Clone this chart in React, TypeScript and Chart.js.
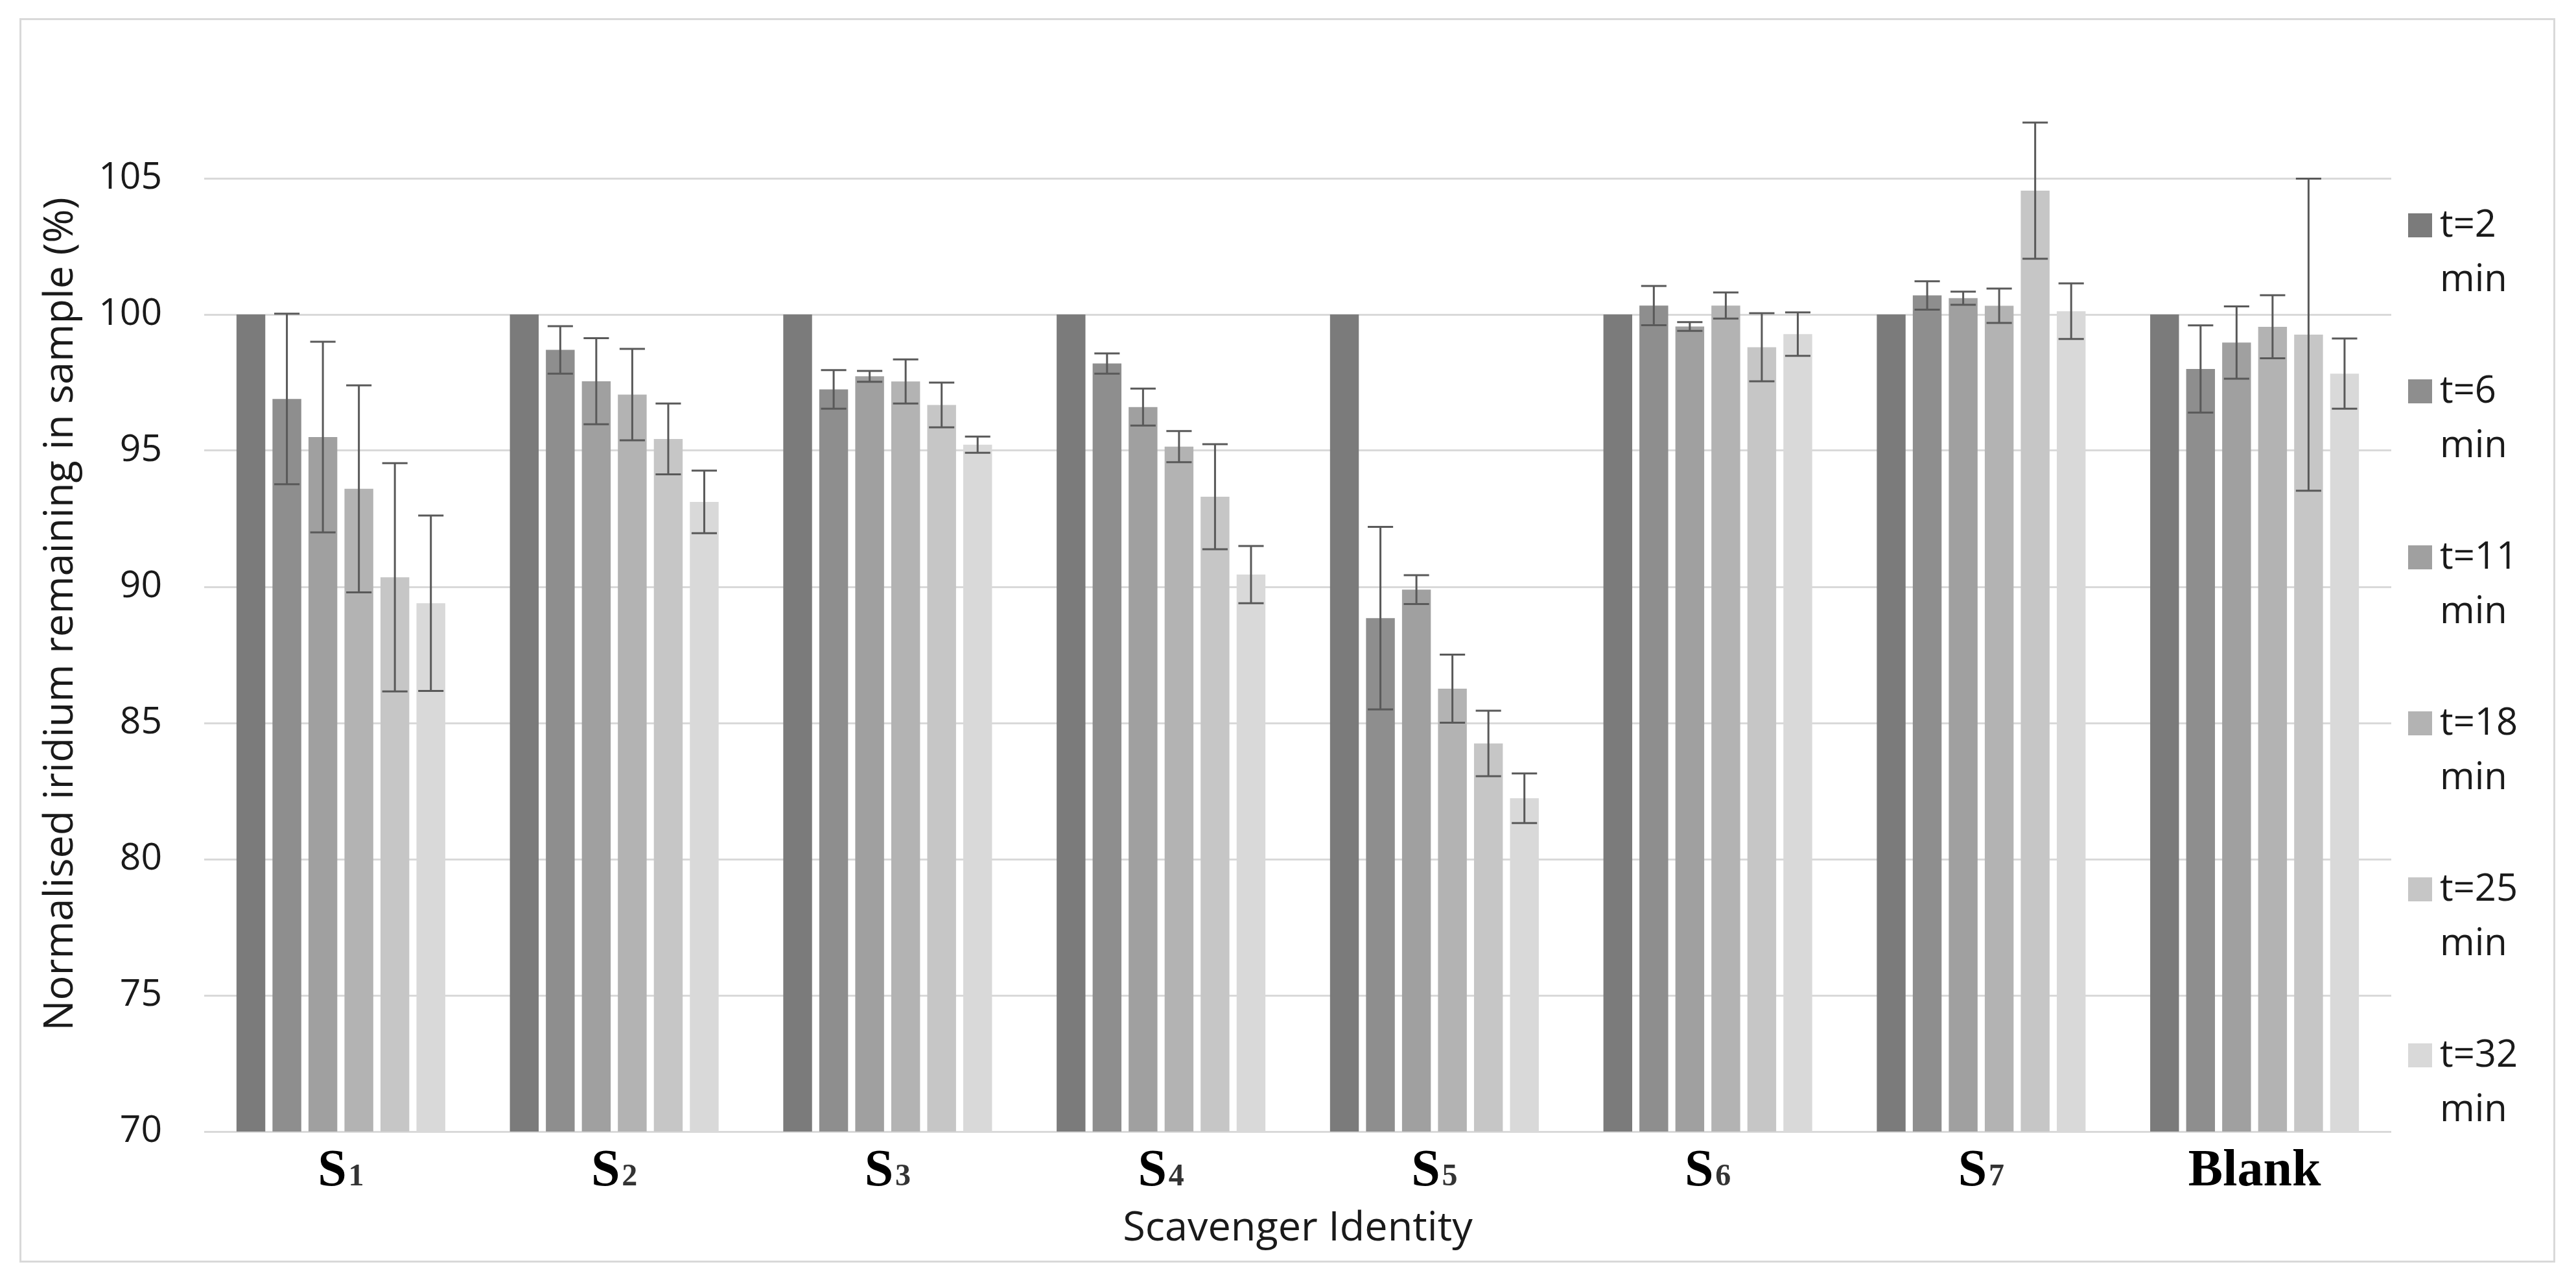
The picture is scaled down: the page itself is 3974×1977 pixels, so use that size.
import { useEffect, useRef } from 'react';
import { Chart, registerables } from 'chart.js';

Chart.register(...registerables);

const categories = ['S1', 'S2', 'S3', 'S4', 'S5', 'S6', 'S7', 'Blank'];
const times = ['2', '6', '11', '18', '25', '32'];
const colours = ['#7b7b7b', '#8e8e8e', '#a0a0a0', '#b3b3b3', '#c6c6c6', '#d9d9d9'];

// normalised iridium remaining (%) per scavenger, one array per sampling time
const t2 = [100, 100, 100, 100, 100, 100, 100, 100];
const t6 = [96.9, 98.7, 97.25, 98.2, 88.85, 100.33, 100.7, 98.0];
const t11 = [95.5, 97.55, 97.73, 96.6, 89.9, 99.56, 100.6, 98.97];
const t18 = [93.6, 97.06, 97.54, 95.15, 86.26, 100.33, 100.32, 99.55];
const t25 = [90.35, 95.43, 96.68, 93.31, 84.25, 98.8, 104.55, 99.26];
const t32 = [89.4, 93.12, 95.22, 90.45, 82.24, 99.28, 100.12, 97.83];

// +/- error for each bar
const t2Err = [0, 0, 0, 0, 0, 0, 0, 0];
const t6Err = [3.13, 0.87, 0.71, 0.37, 3.35, 0.72, 0.52, 1.6];
const t11Err = [3.5, 1.58, 0.2, 0.68, 0.53, 0.16, 0.24, 1.33];
const t18Err = [3.8, 1.68, 0.81, 0.57, 1.25, 0.48, 0.63, 1.16];
const t25Err = [4.19, 1.3, 0.82, 1.93, 1.2, 1.25, 2.5, 5.73];
const t32Err = [3.22, 1.15, 0.3, 1.05, 0.91, 0.8, 1.02, 1.29];

const series = [t2, t6, t11, t18, t25, t32];
const errors = [t2Err, t6Err, t11Err, t18Err, t25Err, t32Err];

const yMin = 70;
const yMax = 108;
const yStep = 5;

const SANS = "'Open Sans', 'Noto Sans', sans-serif";
const SERIF = "'Liberation Serif', 'DejaVu Serif', serif";
const TEXT = '#1a1a1a';

const errorBars = {
  id: 'errorBars',
  afterDatasetsDraw(chart: any) {
    const { ctx } = chart;
    const y = chart.scales.y;
    ctx.save();
    ctx.strokeStyle = '#595959';
    ctx.lineWidth = 3;
    series.forEach((values, i) => {
      chart.getDatasetMeta(i).data.forEach((bar: any, j: number) => {
        const e = errors[i][j];
        if (!e) return;
        const { x, width } = bar.getProps(['x', 'width'], true);
        const top = y.getPixelForValue(values[j] + e);
        const bottom = y.getPixelForValue(values[j] - e);
        const half = width * 0.44;
        ctx.beginPath();
        ctx.moveTo(x, top);
        ctx.lineTo(x, bottom);
        ctx.moveTo(x - half, top);
        ctx.lineTo(x + half, top);
        ctx.moveTo(x - half, bottom);
        ctx.lineTo(x + half, bottom);
        ctx.stroke();
      });
    });
    ctx.restore();
  },
};

// S1..S7 with a small digit, drawn under each category
const categoryLabels = {
  id: 'categoryLabels',
  afterDraw(chart: any) {
    const { ctx, chartArea } = chart;
    const x = chart.scales.x;
    const baseline = chartArea.bottom + 83;
    ctx.save();
    ctx.fillStyle = '#000';
    ctx.textAlign = 'left';
    ctx.textBaseline = 'alphabetic';
    categories.forEach((label, i) => {
      const m = label.match(/^([A-Za-z]+)(\d+)$/);
      const main = m ? m[1] : label;
      const sub = m ? m[2] : '';
      ctx.font = `bold 80px ${SERIF}`;
      const wMain = ctx.measureText(main).width;
      ctx.font = `bold 48px ${SERIF}`;
      const wSub = sub ? ctx.measureText(sub).width + 3 : 0;
      const left = x.getPixelForTick(i) - (wMain + wSub) / 2;
      ctx.font = `bold 80px ${SERIF}`;
      ctx.fillText(main, left, baseline);
      if (sub) {
        ctx.font = `bold 48px ${SERIF}`;
        ctx.fillStyle = '#333';
        ctx.fillText(sub, left + wMain + 3, baseline);
        ctx.fillStyle = '#000';
      }
    });
    ctx.restore();
  },
};

export default function App() {
  const canvasRef = useRef<HTMLCanvasElement>(null);

  useEffect(() => {
    if (!canvasRef.current) return;

    const chart = new Chart(canvasRef.current, {
      type: 'bar',
      data: {
        labels: categories,
        datasets: series.map((values, i) => ({
          label: `t=${times[i]} min`,
          data: values,
          backgroundColor: colours[i],
          categoryPercentage: 0.79,
          barPercentage: 0.8,
        })),
      },
      options: {
        responsive: false,
        devicePixelRatio: 1,
        animation: false,
        layout: { padding: { top: 118, right: 250, bottom: 0, left: 0 } },
        plugins: {
          legend: { display: false },
          tooltip: { enabled: false },
        },
        scales: {
          x: {
            grid: { display: false },
            border: { display: false },
            ticks: { display: false },
            title: {
              display: true,
              text: 'Scavenger Identity',
              color: TEXT,
              font: { family: SANS, size: 63 },
              padding: { top: 0, bottom: 11 },
            },
            afterFit: (scale: any) => { scale.height = 199; },
          },
          y: {
            min: yMin,
            max: yMax,
            grid: { color: '#d9d9d9', lineWidth: 3, drawTicks: false },
            border: { display: false },
            ticks: {
              stepSize: yStep,
              includeBounds: false,
              padding: 65,
              color: TEXT,
              font: { family: SANS, size: 57 },
            },
            title: {
              display: true,
              text: 'Normalised iridium remaining in sample (%)',
              color: TEXT,
              font: { family: SANS, size: 63 },
              padding: { top: 23, bottom: 0 },
            },
            afterFit: (scale: any) => { scale.width = 282; },
          },
        },
      },
      plugins: [errorBars, categoryLabels],
    });

    return () => chart.destroy();
  }, []);

  return (
    <div
      style={{
        position: 'absolute',
        left: 30,
        top: 28,
        width: 3912,
        height: 1919,
        border: '3px solid #d9d9d9',
        boxSizing: 'border-box',
        background: '#fff',
      }}
    >
      <canvas
        ref={canvasRef}
        width={3906}
        height={1913}
        style={{ position: 'absolute', left: 0, top: 0, display: 'block' }}
      />
      <div style={{ position: 'absolute', left: 3682, top: 270, fontFamily: SANS, fontSize: 58, color: TEXT }}>
        {times.map((t, i) => (
          <div key={t} style={{ display: 'flex', alignItems: 'flex-start', height: 256 }}>
            <span style={{ width: 37, height: 37, marginTop: 28, marginRight: 12, background: colours[i], flex: 'none' }} />
            <span style={{ lineHeight: '84px' }}>
              t={t}
              <br />
              min
            </span>
          </div>
        ))}
      </div>
    </div>
  );
}
